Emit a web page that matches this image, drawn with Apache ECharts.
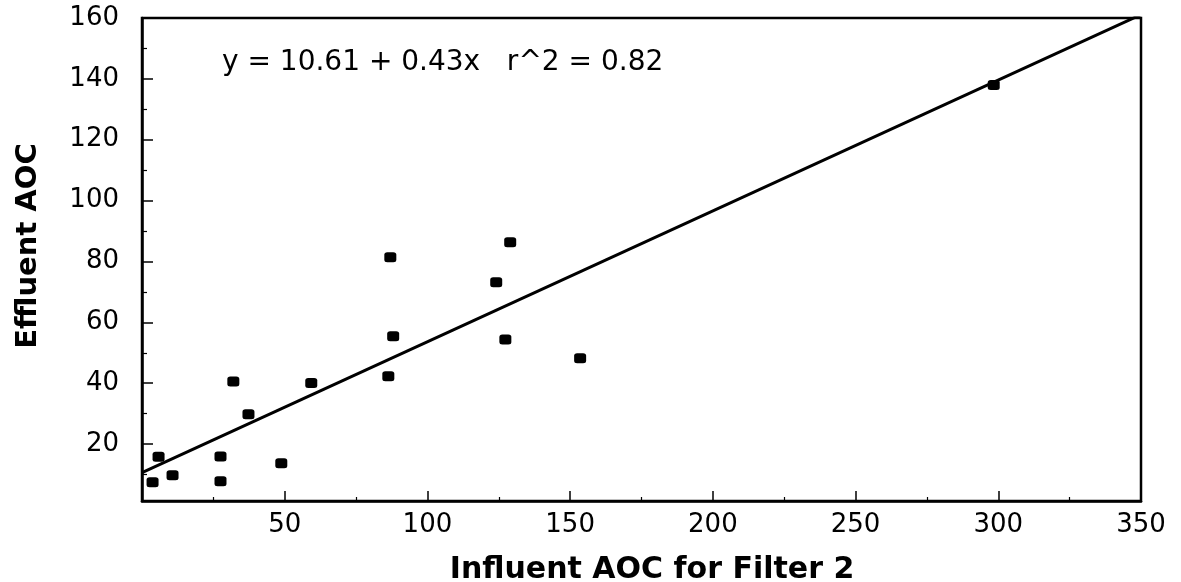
<!DOCTYPE html>
<html>
<head>
<meta charset="utf-8">
<script src="https://cdn.jsdelivr.net/npm/echarts@6/dist/echarts.min.js"></script>
<style>
  html, body { margin: 0; padding: 0; background: #fff; }
  #chart { width: 1181px; height: 582px; }
</style>
</head>
<body>
<div id="chart"></div>
<script>
// Influent vs effluent AOC measurements for Filter 2
const influentAOC = [3.7, 5.8, 10.7, 27.5, 27.5, 32.0, 37.3, 48.8, 59.3, 86.3, 87.0, 88.0, 124.1, 127.3, 129.0, 153.5, 298.4];
const effluentAOC = [7.5, 15.8, 9.8, 15.9, 7.8, 40.6, 29.8, 13.7, 40.1, 42.3, 81.4, 55.4, 73.2, 54.4, 86.3, 48.2, 138.0];

// Least-squares fit stated on the chart
const fitIntercept = 10.61;
const fitSlope = 0.43;
const fitLabel = 'y = 10.61 + 0.43x   r^2 = 0.82';

const xTickLabels = [50, 100, 150, 200, 250, 300, 350];
const yTickLabels = [20, 40, 60, 80, 100, 120, 140, 160];
const yMinorTicks = [10, 30, 50, 70, 90, 110, 130, 150];

const xMin = 0, xMax = 350;
const yMin = 1.3, yMax = 160;

const points = influentAOC.map((x, i) => [x, effluentAOC[i]]);
const fitLine = [xMin, xMax].map(x => [x, fitIntercept + fitSlope * x]);

const chart = echarts.init(document.getElementById('chart'), null, { renderer: 'canvas' });

const labelFont = { fontFamily: 'DejaVu Sans', fontSize: 26, color: '#000' };

chart.setOption({
  animation: false,
  backgroundColor: '#fff',
  grid: {
    left: 142, right: 40, top: 18, bottom: 81,
    show: true, borderColor: '#000', borderWidth: 2.5
  },
  xAxis: {
    type: 'value', min: xMin, max: xMax, interval: 50,
    axisLine: { show: true, lineStyle: { color: '#000', width: 2.5 } },
    axisTick: { show: true, inside: true, length: 10, customValues: xTickLabels, lineStyle: { color: '#000', width: 1.5 } },
    minorTick: { show: true, splitNumber: 2, length: 4, lineStyle: { color: '#000', width: 1.2 } },
    axisLabel: Object.assign({ margin: 11, customValues: xTickLabels }, labelFont),
    splitLine: { show: false }
  },
  yAxis: [
    {
      type: 'value', min: yMin, max: yMax,
      axisLine: { show: true, lineStyle: { color: '#000', width: 2.5 } },
      axisTick: { show: true, inside: true, length: 11, customValues: yTickLabels, lineStyle: { color: '#000', width: 1.5 } },
      axisLabel: Object.assign({ margin: 23, customValues: yTickLabels }, labelFont),
      splitLine: { show: false }
    },
    {
      type: 'value', min: yMin, max: yMax, position: 'left',
      axisLine: { show: false },
      axisTick: { show: true, inside: true, length: 5, customValues: yMinorTicks, lineStyle: { color: '#000', width: 1.2 } },
      axisLabel: { show: false },
      splitLine: { show: false }
    }
  ],
  graphic: [
    {
      type: 'text', left: 222, top: 49,
      style: { text: fitLabel, fontFamily: 'DejaVu Sans', fontSize: 28, fill: '#000' }
    },
    {
      type: 'text', x: 652, y: 570,
      style: { text: 'Influent AOC for Filter 2', fontFamily: 'DejaVu Sans', fontWeight: 'bold', fontSize: 30, fill: '#000', align: 'center', verticalAlign: 'middle' }
    },
    {
      type: 'text', x: 28, y: 246, rotation: Math.PI / 2,
      style: { text: 'Effluent AOC', fontFamily: 'DejaVu Sans', fontWeight: 'bold', fontSize: 29, fill: '#000', align: 'center', verticalAlign: 'middle' }
    }
  ],
  series: [
    {
      type: 'line', data: fitLine, xAxisIndex: 0, yAxisIndex: 0,
      symbol: 'none', clip: true,
      lineStyle: { color: '#000', width: 3 }, silent: true
    },
    {
      type: 'scatter', data: points, xAxisIndex: 0, yAxisIndex: 0,
      symbol: 'roundRect', symbolSize: [12, 10],
      itemStyle: { color: '#000', opacity: 1 }
    }
  ]
});
</script>
</body>
</html>
